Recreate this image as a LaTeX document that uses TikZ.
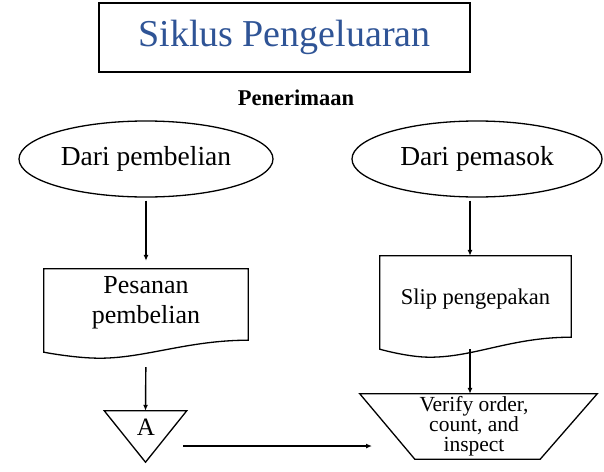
\documentclass[tikz,border=0pt]{standalone}
\usepackage{fontspec}
\setmainfont{Liberation Serif}
\usetikzlibrary{shapes.geometric,arrows.meta}
\definecolor{judulbiru}{RGB}{47,84,150}
\tikzset{
    panah/.style={-{Latex[length=6pt,width=5pt]}, line width=1.4pt},
    garis/.style={line width=1.3pt},
    teks/.style={align=center, inner sep=0pt}
}
\begin{document}
\begin{tikzpicture}[x=1pt, y=-1pt]
    \useasboundingbox (0,0) rectangle (604,471);

    % Judul
    \node[draw, line width=2.5pt, minimum width=371pt, minimum height=69pt, text=judulbiru,
          font=\fontsize{38}{42}\selectfont] (judul) at (284.5,37.5) {Siklus Pengeluaran};
    \node[font=\bfseries\fontsize{22.5}{26}\selectfont] (sub) at (296,98) {Penerimaan};

    % Elips sumber
    \node[ellipse, draw, garis, minimum width=254pt, minimum height=76pt, teks,
          font=\fontsize{27.5}{30}\selectfont] (beli) at (146,159) {Dari pembelian};
    \node[ellipse, draw, garis, minimum width=250pt, minimum height=76pt, teks,
          font=\fontsize{27.5}{30}\selectfont] (pasok) at (477,159) {Dari pemasok};

    % Dokumen
    \node[teks, minimum width=204pt, minimum height=76pt] (pesan) at (146,307) {};
    \node[teks, font=\fontsize{26}{30}\selectfont] at (146,303) {Pesanan\\pembelian};
    \draw[garis] (pesan.north west) -- (pesan.north east) -- ([yshift=5pt]pesan.south east)
        .. controls +(-60pt,0) and +(45pt,0) .. ([xshift=56pt,yshift=-13pt]pesan.south west)
        .. controls +(-25pt,0) and +(0,0) .. ([yshift=-7pt]pesan.south west) -- cycle;

    \node[teks, minimum width=191pt, minimum height=87pt, font=\fontsize{22.5}{26}\selectfont]
          (slip) at (475.5,299.5) {Slip pengepakan};
    \draw[garis] (slip.north west) -- (slip.north east) -- ([yshift=6pt]slip.south east)
        .. controls +(-60pt,0) and +(45pt,0) .. ([xshift=50pt,yshift=-14pt]slip.south west)
        .. controls +(-22pt,0) and +(0,0) .. ([yshift=-6pt]slip.south west) -- cycle;

    % Konektor A
    \node[teks, minimum width=82pt, minimum height=51pt] (A) at (145.5,436.5) {};
    \draw[garis] (A.north west) -- (A.north east) -- (A.south) -- cycle;
    \node[teks, font=\fontsize{25}{28}\selectfont] at (146,427) {A};

    % Proses manual
    \node[teks, minimum width=237pt, minimum height=65pt] (cek) at (478.5,426.5) {};
    \node[teks, font=\fontsize{21.5}{20}\selectfont] at (474,426) {Verify order,\\count, and\\inspect};
    \draw[garis] (cek.north west) -- (cek.north east) -- ([xshift=-57pt]cek.south east)
        -- ([xshift=55pt]cek.south west) -- cycle;

    % Panah
    \coordinate (keluarA) at (183,446);
    \coordinate (masukcek) at (372,446);
    \coordinate (jalur) at (470,0);
    \draw[panah, shorten <=3pt, shorten >=8pt] (beli) -- (pesan);
    \draw[panah, shorten <=3pt] (pasok.south -| jalur) -- (slip.north -| jalur);
    \draw[panah, shorten <=22pt] (pesan.south) -- (A.north);
    \draw[panah, shorten <=6pt] (slip.south -| jalur) -- (cek.north -| jalur);
    \draw[panah] (keluarA) -- (masukcek);
\end{tikzpicture}
\end{document}
